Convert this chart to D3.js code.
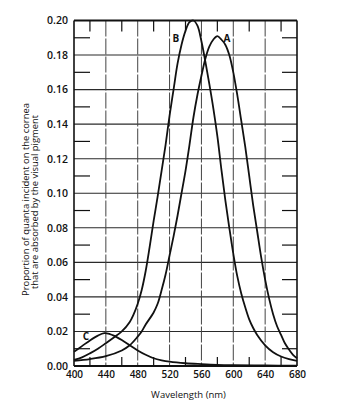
<!DOCTYPE html>
<html>
<head>
<meta charset="utf-8">
<script src="https://cdn.jsdelivr.net/npm/d3@7"></script>
<style>
  html, body { margin: 0; padding: 0; background: #fff; }
  svg { display: block; }
  text { font-family: "Open Sans", "Liberation Sans", sans-serif; fill: #111; }
</style>
</head>
<body>
<svg id="chart" width="338" height="412"></svg>
<script>
// ---- data ----
const wavelengthsB = [400,410,420,430,440,450,460,470,475,480,485,490,495,500,505,510,515,520,525,530,535,540,545,550,555,560,565,570,575,580,585,590,595,600,605,610,615,620,625,630,640,650,660,670,680];
const valuesB      = [0.0035,0.005,0.0073,0.0100,0.0132,0.0165,0.020,0.0255,0.030,0.036,0.044,0.055,0.069,0.084,0.098,0.113,0.128,0.145,0.160,0.175,0.186,0.194,0.199,0.200,0.197,0.188,0.176,0.163,0.149,0.133,0.114,0.096,0.080,0.065,0.052,0.042,0.034,0.027,0.022,0.018,0.012,0.008,0.0055,0.004,0.003];

const wavelengthsA = [400,420,440,460,470,480,485,490,500,505,510,515,520,525,530,535,540,545,550,555,560,565,570,575,580,585,590,595,600,605,610,615,620,625,630,635,640,645,650,655,660,665,670,675,680];
const valuesA      = [0.003,0.004,0.0057,0.009,0.012,0.017,0.020,0.024,0.031,0.036,0.044,0.053,0.064,0.075,0.087,0.100,0.113,0.128,0.144,0.157,0.168,0.178,0.185,0.189,0.191,0.189,0.186,0.180,0.170,0.157,0.142,0.127,0.110,0.093,0.078,0.063,0.050,0.039,0.030,0.023,0.018,0.013,0.0095,0.0065,0.0045];

const wavelengthsC = [400,410,420,430,438,445,450,460,470,480,490,500,510,520,540,560,580,600,640,680];
const valuesC      = [0.0083,0.0115,0.0148,0.0176,0.019,0.0185,0.0176,0.0150,0.0120,0.0090,0.0065,0.0045,0.0033,0.0025,0.0016,0.0011,0.0007,0.0005,0.0003,0.0002];

const curveLabels = [
  { name: "B", wl: 528, v: 0.1878 },
  { name: "A", wl: 592, v: 0.1875 },
  { name: "C", wl: 415, v: 0.0151 }
];

const xTicks = [400,440,480,520,560,600,640,680];
const xMinorTicks = [420,460,500,540,580,620,660];
const yTicks = [0,0.02,0.04,0.06,0.08,0.10,0.12,0.14,0.16,0.18,0.20];
const yMinorTicks = [0.01,0.03,0.05,0.07,0.09,0.11,0.13,0.15,0.17,0.19];

const xTitle = "Wavelength (nm)";
const yTitle1 = "Proportion of quanta incident on the cornea";
const yTitle2 = "that are absorbed by the visual pigment";

// ---- layout ----
const svg = d3.select("#chart");
const pL = 74, pR = 297, pT = 20.5, pB = 366;

const x = d3.scaleLinear().domain([400, 680]).range([pL, pR]);
const y = d3.scaleLinear().domain([0, 0.20]).range([pB, pT]);

// gridlines
const grid = svg.append("g");
grid.selectAll(".hg").data(yTicks.slice(1, -1)).join("line")
  .attr("x1", pL).attr("x2", pR)
  .attr("y1", d => y(d)).attr("y2", d => y(d))
  .attr("stroke", "#2a2a2a").attr("stroke-width", 1.1);
grid.selectAll(".vg").data(xTicks.slice(1, -1)).join("line")
  .attr("x1", d => x(d)).attr("x2", d => x(d))
  .attr("y1", pT).attr("y2", pB)
  .attr("stroke", "#444").attr("stroke-width", 1)
  .attr("stroke-dasharray", "16,2");

// minor ticks
const ticks = svg.append("g").attr("stroke", "#111").attr("stroke-width", 1.2);
ticks.selectAll(".lt").data(yMinorTicks).join("line")
  .attr("x1", pL).attr("x2", pL + 16)
  .attr("y1", d => y(d)).attr("y2", d => y(d));
ticks.selectAll(".rt").data(yMinorTicks).join("line")
  .attr("x1", pR - 15).attr("x2", pR)
  .attr("y1", d => y(d)).attr("y2", d => y(d));
ticks.selectAll(".tt").data(xMinorTicks).join("line")
  .attr("x1", d => x(d)).attr("x2", d => x(d))
  .attr("y1", pT).attr("y2", pT + 11);
ticks.selectAll(".bt").data(xMinorTicks).join("line")
  .attr("x1", d => x(d)).attr("x2", d => x(d))
  .attr("y1", pB).attr("y2", pB - 9);

// frame
svg.append("line").attr("x1", pL).attr("x2", pR).attr("y1", pT).attr("y2", pT)
  .attr("stroke", "#111").attr("stroke-width", 2);
svg.append("line").attr("x1", pL).attr("x2", pR).attr("y1", pB).attr("y2", pB)
  .attr("stroke", "#111").attr("stroke-width", 2);
svg.append("line").attr("x1", pL).attr("x2", pL).attr("y1", pT).attr("y2", pB)
  .attr("stroke", "#111").attr("stroke-width", 1.6);
svg.append("line").attr("x1", pR).attr("x2", pR).attr("y1", pT).attr("y2", pB)
  .attr("stroke", "#111").attr("stroke-width", 1.6);

// axis labels via d3 axes (domain/tick lines hidden)
const yAxis = svg.append("g").attr("transform", `translate(${pL},0)`)
  .call(d3.axisLeft(y).tickValues(yTicks).tickFormat(d3.format(".2f")).tickSize(0).tickPadding(6));
yAxis.select(".domain").remove();
yAxis.selectAll("text").attr("font-size", 10.5).attr("font-family", "Open Sans, sans-serif")
  .attr("font-weight", 600).attr("fill", "#111");

const xAxis = svg.append("g").attr("transform", `translate(0,${pB})`)
  .call(d3.axisBottom(x).tickValues(xTicks).tickFormat(d3.format("d")).tickSize(0).tickPadding(5));
xAxis.select(".domain").remove();
xAxis.selectAll("text").attr("font-size", 10).attr("font-family", "Open Sans, sans-serif")
  .attr("font-weight", 600).attr("fill", "#111");

// titles
svg.append("text").attr("x", (pL + pR) / 2 + 3).attr("y", 398)
  .attr("text-anchor", "middle").attr("font-size", 9.5).text(xTitle);
svg.append("text").attr("transform", "translate(29,199.5) rotate(-90)")
  .attr("text-anchor", "middle").attr("font-size", 9.4).text(yTitle1);
svg.append("text").attr("transform", "translate(37.5,202) rotate(-90)")
  .attr("text-anchor", "middle").attr("font-size", 9.4).text(yTitle2);

// curves
const line = d3.line().x(d => x(d[0])).y(d => y(d[1])).curve(d3.curveCatmullRom.alpha(0.5));
const series = [
  d3.zip(wavelengthsA, valuesA),
  d3.zip(wavelengthsB, valuesB),
  d3.zip(wavelengthsC, valuesC)
];
svg.append("g").selectAll("path").data(series).join("path")
  .attr("d", line).attr("fill", "none").attr("stroke", "#111").attr("stroke-width", 1.8);

// curve labels
svg.append("g").selectAll("text").data(curveLabels).join("text")
  .attr("x", d => x(d.wl)).attr("y", d => y(d.v))
  .attr("text-anchor", "middle").attr("font-size", 10).attr("font-weight", "bold")
  .text(d => d.name);
</script>
</body>
</html>
